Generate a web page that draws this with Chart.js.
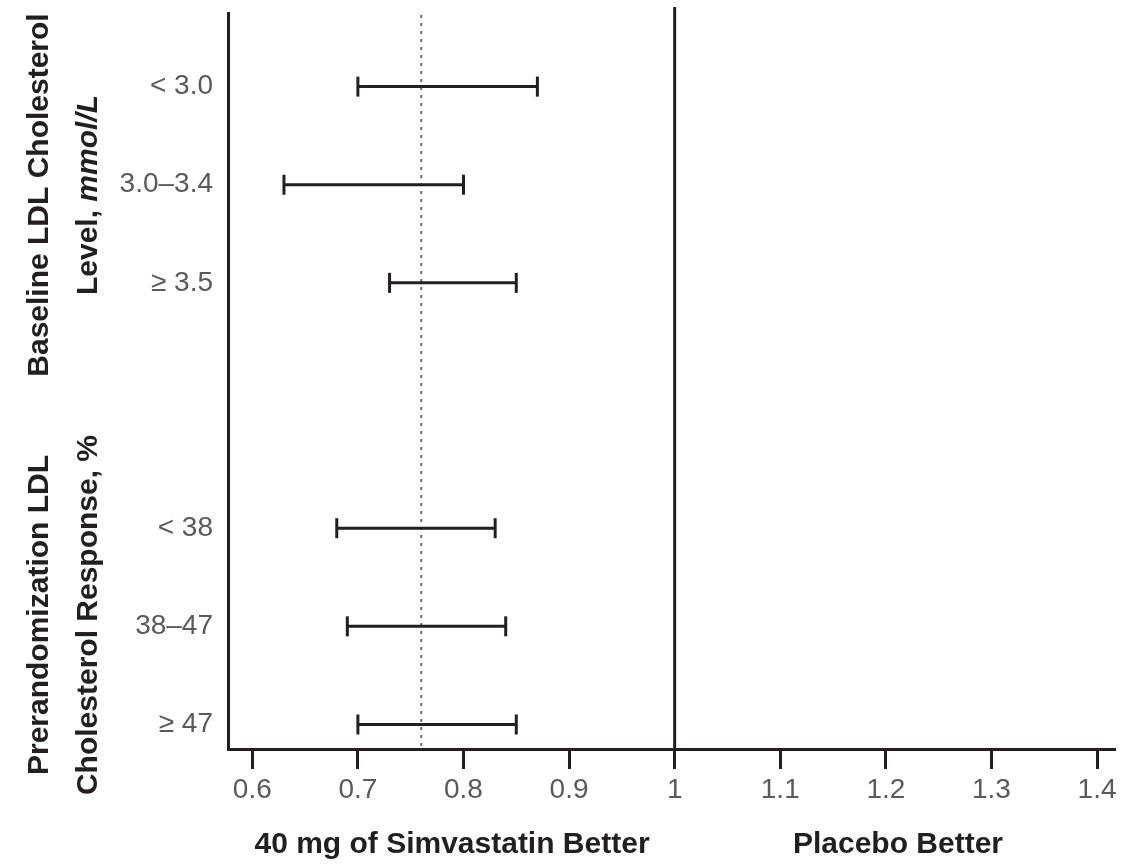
<!DOCTYPE html>
<html>
<head>
<meta charset="utf-8">
<title>Forest plot</title>
<script src="https://cdn.jsdelivr.net/npm/chart.js@4.4.1/dist/chart.umd.min.js"></script>
<style>
body { margin: 0; background: #fff; }
#wrap { width: 1140px; height: 865px; position: relative; }
</style>
</head>
<body>
<div id="wrap"><canvas id="ForestChart"></canvas></div>
<script>
// subgroup rows and their confidence intervals
var rowLabels = ["< 3.0", "3.0–3.4", "≥ 3.5", "< 38", "38–47", "≥ 47"];
var ciLower = [0.70, 0.63, 0.73, 0.68, 0.69, 0.70];
var ciUpper = [0.87, 0.80, 0.85, 0.83, 0.84, 0.85];

// y slots (blank ones leave the gap between the two groups)
var yCategories = ["", "< 3.0", "", "3.0–3.4", "", "≥ 3.5", "", "", "", "", "< 38", "", "38–47", "", "≥ 47"];

var xTickValues = [0.6, 0.7, 0.8, 0.9, 1, 1.1, 1.2, 1.3, 1.4];
var xTickLabels = ["0.6", "0.7", "0.8", "0.9", "1", "1.1", "1.2", "1.3", "1.4"];
var xMin = 0.577;
var xMax = 1.417;

var noEffectValue = 1;
var overallEstimate = 0.76;

var groupTitles = [
    [[{text: "Baseline LDL Cholesterol", italic: false}],
     [{text: "Level, ", italic: false}, {text: "mmol/L", italic: true}]],
    [[{text: "Prerandomization LDL", italic: false}],
     [{text: "Cholesterol Response, %", italic: false}]]
];
var favourLabels = ["40 mg of Simvastatin Better", "Placebo Better"];

var INK = '#231f20';
var GREY = '#5a5a5a';
Chart.defaults.font.family = "'Liberation Sans', Arial, sans-serif";

window.onload = function () {
    var ctx = document.getElementById("ForestChart").getContext('2d');
    this.ForestChart = new Chart(ctx, {
        type: 'line',
        data: { datasets: buildDatasets() },
        options: {
            responsive: true,
            maintainAspectRatio: false,
            animation: false,
            events: [],
            layout: { padding: { top: 12, right: 25, left: 0, bottom: 0 } },
            plugins: { legend: { display: false }, tooltip: { enabled: false } },
            scales: {
                x: {
                    type: 'linear',
                    min: xMin,
                    max: xMax,
                    afterBuildTicks: function (scale) {
                        scale.ticks = xTickValues.map(function (v) { return { value: v }; });
                    },
                    grid: { drawOnChartArea: false, drawTicks: true, tickLength: 20, tickWidth: 3, tickColor: INK },
                    border: { color: INK, width: 3 },
                    ticks: {
                        color: GREY,
                        font: { size: 28 },
                        padding: 4,
                        maxRotation: 0,
                        autoSkip: false,
                        callback: function (v, i) { return xTickLabels[i]; }
                    },
                    afterFit: function (scale) { scale.height = 116; }
                },
                y: {
                    type: 'category',
                    labels: yCategories,
                    offset: true,
                    grid: { drawOnChartArea: false, drawTicks: false },
                    border: { color: INK, width: 3 },
                    ticks: { color: GREY, font: { size: 28 }, padding: 15, autoSkip: false },
                    afterFit: function (scale) {
                        scale.width = 228;
                        scale.paddingTop = 0;
                        scale.paddingBottom = 0;
                    }
                }
            }
        },
        plugins: [referenceLines, annotations]
    });
}

function buildDatasets() {
    return rowLabels.map(function (label, i) {
        return {
            label: label,
            data: [{ x: ciLower[i], y: label }, { x: ciUpper[i], y: label }],
            borderColor: INK,
            borderWidth: 3,
            pointStyle: 'line',
            pointRotation: 90,
            pointRadius: 10,
            pointBorderWidth: 3,
            pointBorderColor: INK,
            pointBackgroundColor: INK
        };
    });
}

var referenceLines = {
    id: 'referenceLines',
    beforeDatasetsDraw: function (chart) {
        var c = chart.ctx, area = chart.chartArea, xs = chart.scales.x;
        c.save();
        // overall estimate, dotted
        var xd = xs.getPixelForValue(overallEstimate);
        c.strokeStyle = '#6b6b6b';
        c.lineWidth = 2;
        c.setLineDash([3, 5]);
        c.beginPath();
        c.moveTo(xd, area.top + 2);
        c.lineTo(xd, area.bottom);
        c.stroke();
        // line of no effect
        var x1 = xs.getPixelForValue(noEffectValue);
        c.setLineDash([]);
        c.strokeStyle = INK;
        c.lineWidth = 3;
        c.beginPath();
        c.moveTo(x1, area.top - 6);
        c.lineTo(x1, area.bottom);
        c.stroke();
        c.restore();
    }
};

function drawPieces(c, pieces, x, y) {
    var total = 0;
    pieces.forEach(function (p) {
        c.font = (p.italic ? 'italic ' : '') + 'bold 30px ' + Chart.defaults.font.family;
        total += c.measureText(p.text).width;
    });
    var pos = x - total / 2;
    pieces.forEach(function (p) {
        c.font = (p.italic ? 'italic ' : '') + 'bold 30px ' + Chart.defaults.font.family;
        c.fillText(p.text, pos, y);
        pos += c.measureText(p.text).width;
    });
}

var annotations = {
    id: 'annotations',
    afterDraw: function (chart) {
        var c = chart.ctx;
        var groupCenters = [195, 615];
        var lineBaselines = [48, 97];
        c.save();
        c.fillStyle = INK;
        c.textAlign = 'left';
        c.textBaseline = 'alphabetic';
        groupTitles.forEach(function (lines, g) {
            lines.forEach(function (pieces, l) {
                c.save();
                c.translate(lineBaselines[l], groupCenters[g]);
                c.rotate(-Math.PI / 2);
                drawPieces(c, pieces, 0, 0);
                c.restore();
            });
        });
        drawPieces(c, [{ text: favourLabels[0] }], 452, 853);
        drawPieces(c, [{ text: favourLabels[1] }], 898, 853);
        c.restore();
    }
};
</script>
</body>
</html>
